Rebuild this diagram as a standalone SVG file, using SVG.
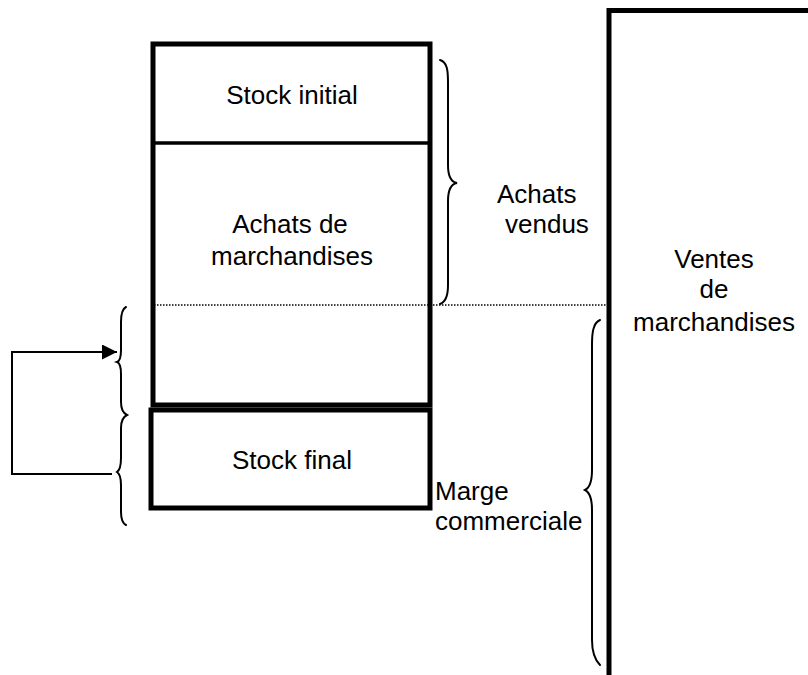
<svg xmlns="http://www.w3.org/2000/svg" width="808" height="675" viewBox="0 0 808 675">
<style>
.t{font-family:"Liberation Sans",Arial,sans-serif;font-size:26px;fill:#000}
.c{text-anchor:middle}
.box{fill:none;stroke:#000;stroke-width:5}
.br{fill:none;stroke:#000;stroke-width:2;stroke-linecap:round}
.ln{fill:none;stroke:#000;stroke-width:2}
</style>
<defs>
<marker id="ah" markerWidth="16" markerHeight="16" refX="15" refY="7.5" orient="auto" markerUnits="userSpaceOnUse">
<path d="M0,0 L15,7.5 L0,15 Z" fill="#000"/>
</marker>
</defs>
<rect width="808" height="675" fill="#fff"/>
<g id="ventes">
<path class="box" d="M812,10.5 L609,10.5 L609,678" stroke-width="5.5"/>
<text class="t c" x="714" y="268">Ventes</text>
<text class="t c" x="714" y="298">de</text>
<text class="t c" x="714" y="331">marchandises</text>
</g>
<g id="upper-box">
<rect class="box" x="153" y="44" width="277" height="361"/>
<line x1="153" y1="143" x2="430" y2="143" stroke="#000" stroke-width="3.5"/>
</g>
<g id="stock-initial">
<text class="t c" x="292" y="104">Stock initial</text>
</g>
<g id="achats-marchandises">
<text class="t c" x="290" y="233">Achats de</text>
<text class="t c" x="292" y="265">marchandises</text>
</g>
<g id="stock-final">
<rect class="box" x="151" y="410" width="279" height="98" stroke-width="5.5"/>
<text class="t c" x="292" y="469">Stock final</text>
</g>
<g id="achats-vendus">
<path class="br" d="M440,60 C447,62 448,70 448,82 L448,165 C448,177 451,182 457,183 C451,184 448,189 448,201 L448,285 C448,296 446,302 440,304"/>
<text class="t" x="497" y="203">Achats</text>
<text class="t" x="505" y="233">vendus</text>
</g>
<g id="marge">
<path class="br" d="M600,320 C593,323 592,333 592,345 L592,470 C592,482 589,488 585,490 C589,492 592,498 592,510 L592,640 C592,652 595,660 600,665"/>
<text class="t" x="435" y="500">Marge</text>
<text class="t" x="435" y="530">commerciale</text>
</g>
<g id="left-braces">
<path class="br" d="M126,307 C122,309 121,315 121,322 L121,350 C121,357 120,361 117,362 C120,363 121,367 121,374 L121,402 C121,409 123,413 127,415 C123,417 121,421 121,428 L121,458 C121,465 120,470 117,472 C120,474 121,478 121,485 L121,512 C121,519 122,523 126,525"/>
</g>
<g id="connectors">
<line x1="154" y1="305" x2="606" y2="305" stroke="#000" stroke-width="1.5" stroke-dasharray="1.5,1.5"/>
<path class="ln" d="M112,474 L12,474 L12,352 L117,352" marker-end="url(#ah)"/>
</g>
</svg>
